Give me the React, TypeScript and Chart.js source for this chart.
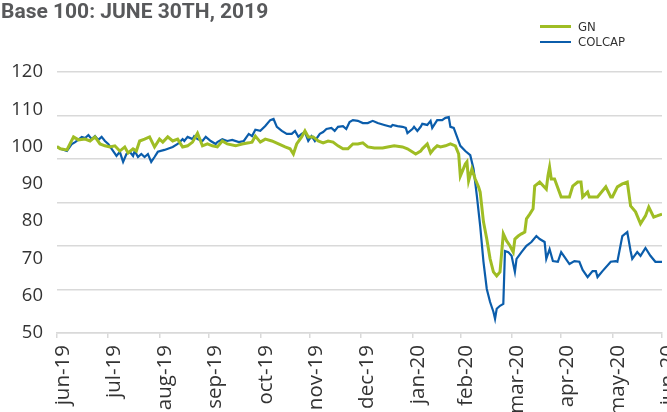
import React, { useEffect, useRef } from "react";
import { Chart, registerables } from "chart.js";

Chart.register(...registerables);

const title = "Base 100: JUNE 30TH, 2019";
const seriesNames = ["GN", "COLCAP"];
const seriesColors = ["#9fbd24", "#0b5dab"];

// x axis: days since 30 Jun 2019; ticks at month ends
const tickDays = [0, 31, 62, 92, 123, 153, 184, 215, 244, 275, 305, 336, 366];
const tickLabels = [
  "jun-19", "jul-19", "aug-19", "sep-19", "oct-19", "nov-19", "dec-19",
  "jan-20", "feb-20", "mar-20", "apr-20", "may-20", "jun-20",
];

const gnDays = [
  0, 2, 6, 10, 13, 17, 20, 23, 26, 29, 32, 35, 38, 41, 43, 46, 48, 50, 53, 56,
  59, 62, 64, 67, 70, 73, 76, 79, 82, 85, 88, 91, 94, 97, 100, 103, 108, 112, 116, 118,
  120, 123, 126, 130, 134, 138, 141, 143, 145, 148, 150, 152, 155, 158, 161, 164, 167, 170, 173, 176,
  179, 182, 185, 188, 192, 197, 200, 204, 209, 212, 217, 220, 221, 224, 226, 228, 230, 232, 235, 238,
  241, 243, 244, 247, 248, 249, 251, 253, 255, 256, 258, 260, 262, 264, 266, 268, 270, 272, 274, 276,
  277, 279, 281, 283, 284, 286, 288, 289, 292, 296, 297, 298, 299, 301, 305, 310, 312, 315, 317, 318,
  321, 322, 327, 332, 335, 336, 339, 342, 345, 347, 350, 353, 356, 358, 361, 363, 366,
];
const gnValues = [
  100, 99.4, 99.1, 102.6, 101.8, 102.0, 101.5, 102.6, 100.7, 100.2, 99.9, 100.2, 98.8, 99.9, 98.3, 99.4, 98.8, 101.5, 102.0, 102.6,
  99.9, 102.0, 101.2, 102.6, 101.5, 102.0, 99.9, 100.2, 101.2, 103.6, 100.2, 100.7, 100.2, 99.9, 101.5, 100.7, 100.2, 100.7, 101.0, 101.2,
  102.8, 101.2, 102.0, 101.5, 100.7, 99.9, 99.4, 98.0, 100.7, 102.6, 104.2, 102.6, 102.6, 101.5, 101.0, 101.5, 101.2, 100.2, 99.4, 99.4,
  100.7, 100.7, 101.0, 99.9, 99.6, 99.6, 99.9, 100.2, 99.9, 99.4, 98.0, 98.8, 99.4, 100.7, 98.3, 99.4, 100.2, 99.9, 100.2, 100.7,
  100.2, 98.0, 92.1, 95.3, 95.9, 90.8, 94.0, 91.3, 89.2, 87.8, 79.8, 75.2, 69.9, 66.4, 65.3, 66.4, 76.6, 74.7, 73.4, 71.7,
  75.2, 76.0, 76.6, 77.1, 80.6, 81.9, 83.3, 89.4, 90.5, 88.6, 92.1, 94.5, 91.3, 91.3, 86.5, 86.5, 89.4, 90.5, 90.5, 86.5,
  87.8, 86.5, 86.5, 89.2, 86.5, 86.5, 89.2, 90.0, 90.5, 84.1, 82.5, 79.3, 81.4, 83.8, 81.1, 81.4, 81.9,
];

const colcapDays = [
  0, 2, 6, 9, 11, 15, 17, 19, 21, 23, 25, 27, 29, 31, 34, 36, 38, 40, 42, 44,
  46, 47, 49, 51, 53, 55, 57, 59, 61, 65, 70, 73, 76, 77, 79, 82, 83, 85, 88, 90,
  93, 96, 97, 100, 103, 106, 110, 113, 116, 118, 120, 123, 126, 129, 131, 133, 136, 139, 142, 144,
  146, 148, 150, 152, 154, 156, 159, 161, 163, 166, 168, 170, 173, 175, 177, 179, 182, 185, 188, 191,
  194, 198, 202, 203, 206, 209, 211, 212, 215, 216, 218, 220, 221, 224, 226, 227, 230, 233, 235, 237,
  238, 240, 242, 244, 247, 250, 252, 254, 256, 258, 260, 262, 264, 265, 266, 268, 270, 271, 273, 275,
  277, 278, 281, 284, 287, 290, 292, 295, 296, 298, 300, 303, 305, 307, 310, 313, 316, 318, 321, 324,
  326, 327, 330, 335, 338, 339, 342, 345, 347, 348, 351, 353, 356, 359, 362, 366,
];
const colcapValues = [
  100, 99.4, 98.8, 100.7, 101.2, 102.6, 102.3, 103.1, 102.0, 102.8, 101.8, 102.6, 101.5, 100.7, 98.8, 97.5, 98.6, 95.9, 98.0, 98.6,
  97.5, 98.8, 97.2, 98.0, 97.2, 98.0, 95.9, 97.2, 98.6, 99.1, 99.9, 100.7, 102.0, 101.5, 102.6, 102.0, 102.8, 102.0, 101.5, 102.6,
  101.5, 100.7, 101.2, 102.0, 101.5, 101.8, 101.2, 101.5, 103.4, 102.8, 104.5, 104.2, 105.5, 107.1, 107.4, 105.3, 104.2, 103.4, 103.4, 104.2,
  102.6, 103.4, 103.9, 101.5, 102.8, 101.5, 103.4, 103.9, 104.7, 105.0, 104.2, 105.3, 105.5, 104.7, 106.6, 107.1, 106.9, 106.3, 106.3, 106.9,
  106.3, 105.8, 105.3, 105.8, 105.5, 105.3, 105.0, 103.6, 104.7, 105.3, 104.2, 105.3, 106.1, 105.8, 106.9, 105.0, 107.1, 107.1, 107.7, 107.9,
  105.3, 105.0, 102.6, 100.2, 98.8, 97.7, 94.0, 86.8, 78.7, 69.1, 61.8, 58.3, 55.7, 53.8, 56.5, 57.3, 57.8, 72.0, 71.7, 70.7,
  66.4, 69.9, 71.7, 73.4, 74.4, 76.0, 75.2, 74.4, 69.9, 72.5, 69.3, 69.1, 71.7, 70.4, 68.5, 69.3, 69.1, 66.9, 65.0, 66.6,
  66.6, 65.0, 66.6, 69.1, 69.3, 69.1, 76.0, 77.1, 72.0, 69.9, 71.7, 70.7, 72.8, 70.7, 69.1, 69.1,
];

const yMin = 50;
const yMax = 120;
const yStep = 10;
const gridBands = 6;

const fontFamily = "'Open Sans', 'Segoe UI', sans-serif";

export default function App() {
  const canvasRef = useRef<HTMLCanvasElement | null>(null);

  useEffect(() => {
    if (!canvasRef.current) return;
    const chart = new Chart(canvasRef.current, {
      type: "line",
      data: {
        datasets: [
          {
            label: seriesNames[0],
            data: gnDays.map((d, i) => ({ x: d, y: gnValues[i] })),
            borderColor: seriesColors[0],
            backgroundColor: seriesColors[0],
            borderWidth: 3,
            pointRadius: 0,
            tension: 0,
            yAxisID: "y",
          },
          {
            label: seriesNames[1],
            data: colcapDays.map((d, i) => ({ x: d, y: colcapValues[i] })),
            borderColor: seriesColors[1],
            backgroundColor: seriesColors[1],
            borderWidth: 2.2,
            pointRadius: 0,
            tension: 0,
            yAxisID: "y",
          },
        ],
      },
      options: {
        animation: false,
        responsive: true,
        maintainAspectRatio: false,
        layout: { padding: { top: 72, right: 5, left: 0, bottom: 0 } },
        plugins: { legend: { display: false }, title: { display: false }, tooltip: { enabled: false } },
        scales: {
          x: {
            type: "linear",
            min: tickDays[0],
            max: tickDays[tickDays.length - 1],
            afterBuildTicks: (scale: any) => {
              scale.ticks = tickDays.map((v) => ({ value: v }));
            },
            afterFit: (scale: any) => {
              scale.height = 412 - 333;
              scale.paddingLeft = 0;
              scale.paddingRight = 0;
            },
            grid: { drawOnChartArea: false, drawTicks: true, tickLength: 5, color: "#d9d9d9", lineWidth: 1.5 },
            border: { display: true, color: "#d9d9d9", width: 1.5 },
            ticks: {
              autoSkip: false,
              minRotation: 90,
              maxRotation: 90,
              padding: 7,
              labelOffset: 6,
              color: "#333333",
              font: { family: fontFamily, size: 20.5 },
              callback: (value: any) => {
                const idx = tickDays.indexOf(Number(value));
                return idx >= 0 ? tickLabels[idx] : "";
              },
            },
          },
          y: {
            position: "left",
            min: yMin,
            max: yMax,
            afterFit: (scale: any) => {
              scale.width = 57;
            },
            grid: { display: false, drawTicks: false },
            border: { display: false },
            ticks: { stepSize: yStep, padding: 14, color: "#333333", font: { family: fontFamily, size: 18.5 } },
          },
          y2: {
            position: "right",
            min: 0,
            max: gridBands,
            afterFit: (scale: any) => {
              scale.width = 0;
            },
            grid: { drawTicks: false, color: "#d9d9d9", lineWidth: 1.5 },
            border: { display: false },
            ticks: { display: false, stepSize: 1 },
          },
        },
      },
    });
    return () => chart.destroy();
  }, []);

  const legendText: React.CSSProperties = {
    fontFamily: "'Liberation Sans Narrow', 'DejaVu Sans Condensed', Roboto, sans-serif",
    fontSize: 13,
    color: "#333333",
    lineHeight: "15px",
  };

  return (
    <div style={{ position: "absolute", left: 0, top: 0, width: 667, height: 412, background: "#ffffff", overflow: "hidden" }}>
      <canvas ref={canvasRef} style={{ position: "absolute", left: 0, top: 0 }} />
      <div
        style={{
          position: "absolute",
          left: 1,
          top: -1,
          fontFamily: "Roboto, 'Open Sans', sans-serif",
          fontWeight: 700,
          fontSize: 21,
          color: "#58595b",
          lineHeight: "24px",
          whiteSpace: "nowrap",
        }}
      >
        {title}
      </div>
      <div style={{ position: "absolute", left: 540, top: 19 }}>
        {seriesNames.map((name, i) => (
          <div key={name} style={{ display: "flex", alignItems: "center", height: 15 }}>
            <div style={{ width: 31, height: i === 0 ? 3 : 2, background: seriesColors[i], marginRight: 7 }} />
            <span style={legendText}>{name}</span>
          </div>
        ))}
      </div>
    </div>
  );
}
